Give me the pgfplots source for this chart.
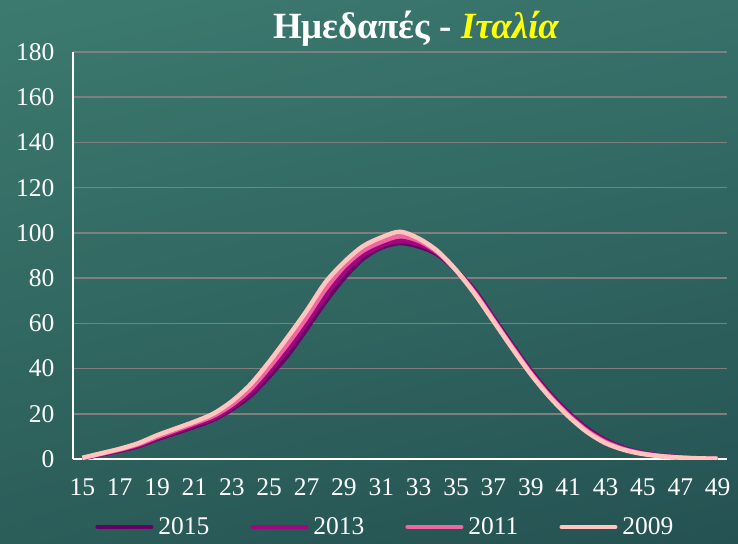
\documentclass[border=0pt]{standalone}
\usepackage{pgfplots}
\pgfplotsset{compat=1.18}
\usepackage{pgfplotstable}
\usetikzlibrary{shadings}
\usepackage{fontspec}
\setmainfont{Liberation Serif}
\definecolor{c15}{HTML}{660066}
\definecolor{c13}{HTML}{A3047F}
\definecolor{c11}{HTML}{F066A0}
\definecolor{c09}{HTML}{FFC5BE}
\definecolor{gridgray}{HTML}{7F7F7F}
\definecolor{tyellow}{HTML}{FFFF00}
\definecolor{bgUL}{HTML}{3C7A6F}
\definecolor{bgUR}{HTML}{37716A}
\definecolor{bgLL}{HTML}{2B5D59}
\definecolor{bgLR}{HTML}{245252}

\pgfplotstableread{
age y2015 y2013 y2011 y2009
15 0.3 0.3 0.4 0.5
16 2.0 2.1 2.3 2.5
17 3.7 3.9 4.2 4.5
18 5.7 6.0 6.5 7.0
19 8.8 9.2 9.8 10.5
20 11.5 12.0 12.8 13.5
21 14.3 15.0 15.8 16.5
22 17.3 18.0 19.0 20.0
23 22.0 22.8 24.0 25.5
24 28.0 29.5 31.0 33.0
25 36.5 38.5 40.5 43.0
26 46.0 48.5 51.0 54.0
27 57.5 60.0 62.5 65.5
28 69.5 72.0 75.0 78.0
29 80.0 82.5 85.0 87.0
30 88.5 90.0 92.0 94.0
31 93.5 94.5 96.0 98.0
32 95.5 96.5 98.5 100.5
33 94.0 95.0 96.5 97.5
34 90.5 91.0 91.5 92.0
35 83.5 83.5 83.5 83.5
36 74.5 74.0 73.5 73.0
37 62.5 62.0 61.5 61.0
38 50.5 50.0 49.5 49.0
39 39.0 38.5 38.0 37.5
40 29.0 28.5 28.0 27.5
41 20.5 20.0 19.5 19.0
42 13.5 13.0 12.5 12.0
43 8.3 8.0 7.5 7.0
44 4.8 4.6 4.3 4.0
45 2.7 2.6 2.4 2.2
46 1.5 1.4 1.3 1.2
47 0.8 0.7 0.7 0.6
48 0.4 0.3 0.3 0.3
49 0.1 0.1 0.1 0.1
}\datatable

\begin{document}
\begin{tikzpicture}[x=1pt,y=1pt]
\shade[upper left=bgUL, upper right=bgUR, lower left=bgLL, lower right=bgLR] (0,0) rectangle (738,543);
\node[text=white, font=\fontsize{37}{42}\selectfont\bfseries, anchor=base] at (416,504) {Ημεδαπές - \textcolor{tyellow}{\itshape Ιταλία}};
\begin{axis}[
  at={(73pt,84pt)}, anchor=south west,
  scale only axis, width=654pt, height=407pt,
  xmin=14.5, xmax=49.5, ymin=0, ymax=180,
  xtick={15,17,...,49}, ytick={0,20,...,180},
  axis x line*=bottom, axis y line*=left,
  axis line style={white, line width=1.5pt, -},
  ymajorgrids, grid style={gridgray, line width=1.5pt},
  major tick length=0pt,
  tick label style={white, font=\fontsize{25.5}{29}\selectfont},
  /pgf/number format/assume math mode=true,
  xticklabel style={yshift=-16pt},
  yticklabel style={xshift=-15pt},
  legend columns=4,
  legend style={at={(0.477,-0.167)}, anchor=center, draw=none, fill=none,
    text=white, font=\fontsize{25.5}{29}\selectfont,
    nodes={inner sep=1pt},
    /tikz/every even column/.append style={column sep=40pt},
    /tikz/every odd column/.append style={column sep=4pt}},
  legend image code/.code={\draw[#1, line width=4pt, line cap=round] (0pt,0pt) -- (54pt,0pt);},
  every axis plot/.append style={smooth, line width=4.5pt, no markers},
]
\addplot[c15] table[x=age, y=y2015] {\datatable};
\addplot[c13] table[x=age, y=y2013] {\datatable};
\addplot[c11] table[x=age, y=y2011] {\datatable};
\addplot[c09] table[x=age, y=y2009] {\datatable};
\legend{2015,2013,2011,2009}
\end{axis}
\end{tikzpicture}
\end{document}
